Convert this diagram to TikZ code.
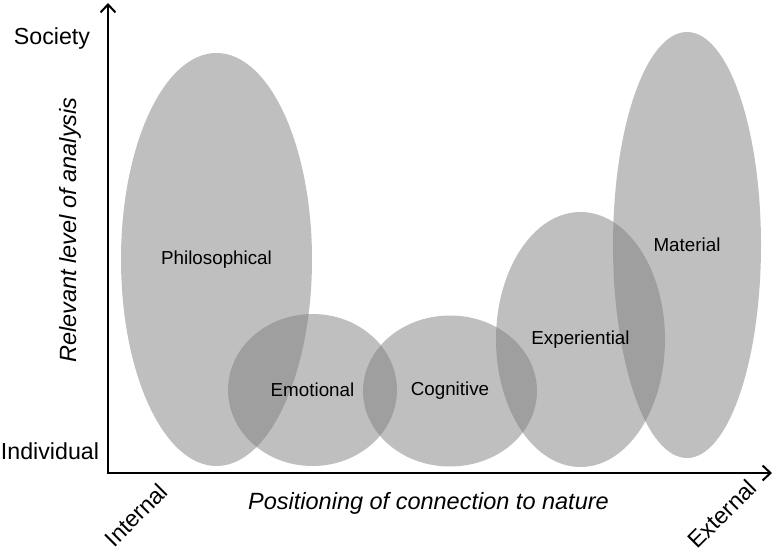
\documentclass[tikz,border=0pt]{standalone}
\usepackage{fontspec}
\setmainfont{Liberation Sans}
\usetikzlibrary{shapes.geometric,arrows.meta}
\begin{document}
\begin{tikzpicture}[x=1pt,y=-1pt,
  blob/.style={ellipse, inner sep=0pt, fill={rgb,255:red,128;green,128;blue,128}, fill opacity=0.5, draw=none},
  lbl/.style={font=\fontsize{18.8}{22}\selectfont, text=black, inner sep=0pt},
  axlbl/.style={font=\fontsize{23.2}{27}\selectfont, text=black, inner sep=0pt},
  axtitle/.style={font=\fontsize{23.5}{27}\selectfont\itshape, text=black, inner sep=0pt},
  axis/.style={line width=2pt, {Straight Barb[length=8pt,width=15pt,line width=2pt]}-{Straight Barb[length=8pt,width=15pt,line width=2pt]}}]
\useasboundingbox (0,0) rectangle (774,555);
% ellipses
\node[blob, minimum width=191pt, minimum height=413pt] (phil) at (216.5,259.5) {};
\node[blob, minimum width=169pt, minimum height=152pt] (emo) at (312.5,390) {};
\node[blob, minimum width=174pt, minimum height=151pt] (cog) at (450,391) {};
\node[blob, minimum width=169pt, minimum height=255pt] (exp) at (580.5,339.5) {};
\node[blob, minimum width=148pt, minimum height=426pt] (mat) at (687,245) {};
% labels
\node[lbl] (philL) at (phil.center) {Philosophical};
\node[lbl] (emoL) at (emo.center) {Emotional};
\node[lbl] (cogL) at (cog.center) {Cognitive};
\node[lbl] (expL) at (exp.center) {Experiential};
\node[lbl] (matL) at (mat.center) {Material};
% axes
\coordinate (O) at (108,473);
\coordinate (ytop) at (108,3);
\coordinate (xend) at (772,473);
\draw[axis] (ytop) -- (O) -- (xend);
\node[axlbl] (soc) at (52,38) {Society};
\node[axlbl] (ind) at (50,451) {Individual};
\node[axtitle] (xt) at (428.5,503) {Positioning of connection to nature};
\node[axtitle, rotate=90] (yt) at (70,230) {Relevant level of analysis};
\node[axlbl, rotate=45] (int) at (136,515) {Internal};
\node[axlbl, rotate=45] (ext) at (722,514) {External};
\end{tikzpicture}
\end{document}
